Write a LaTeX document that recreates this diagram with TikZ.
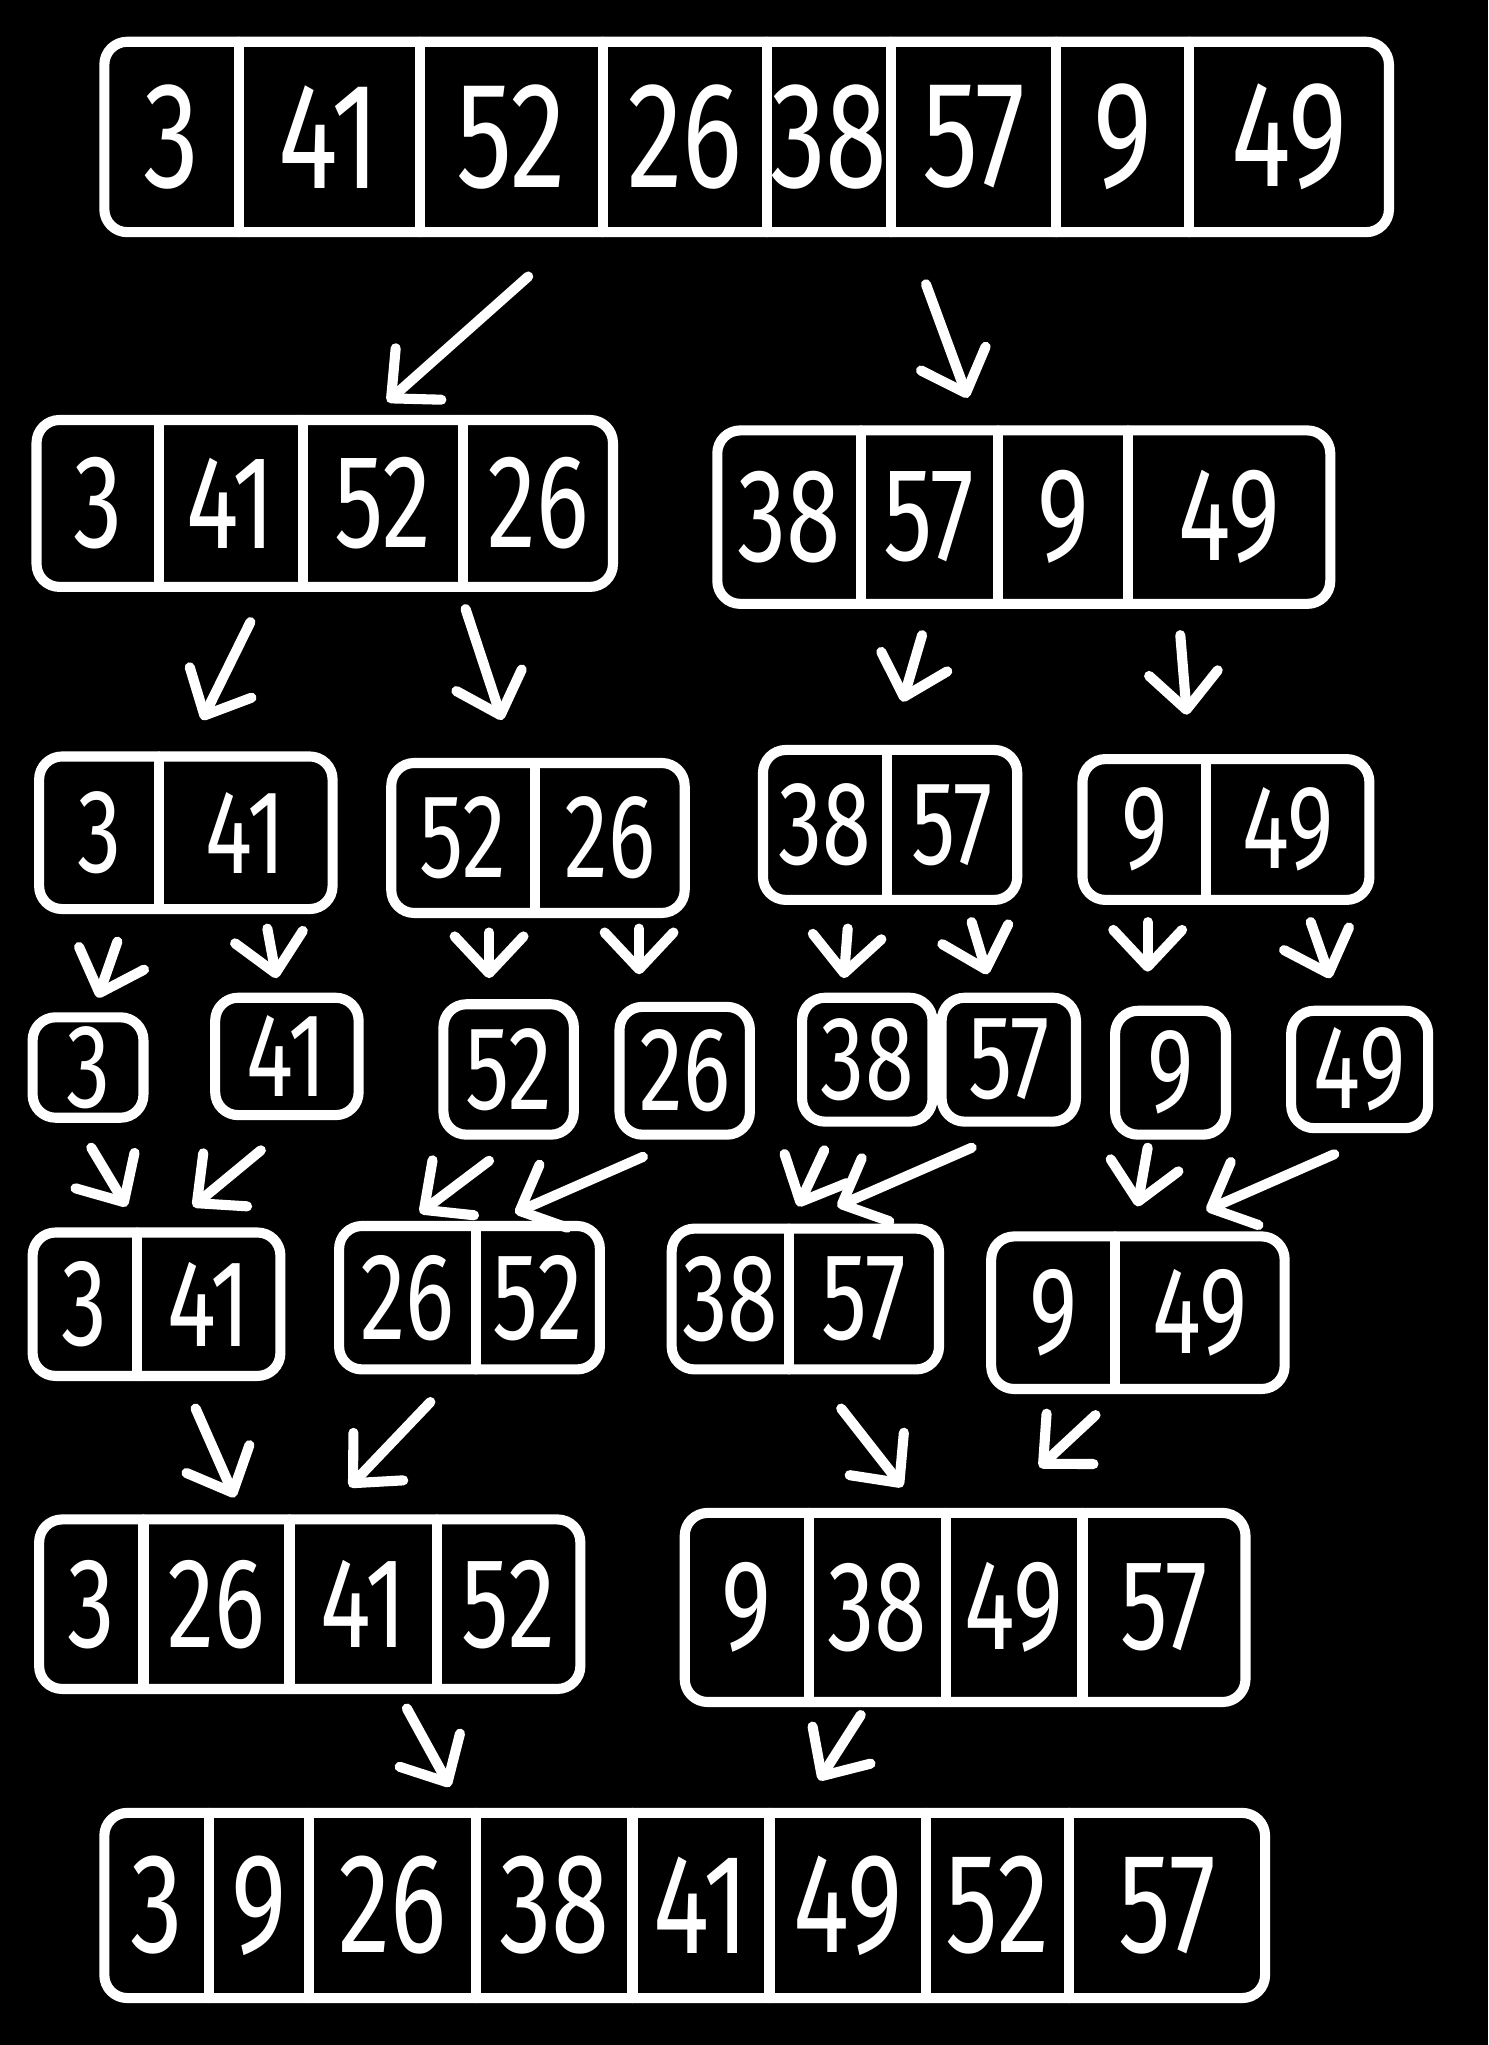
\documentclass[tikz,border=0pt]{standalone}
\usepackage{fontspec}
\setmainfont{Fira Sans}[FakeStretch=0.74]
\usetikzlibrary{arrows.meta}
\tikzset{
  box/.style={draw=white, line width=2.2pt, line join=round, line cap=round},
  num/.style={text=white, inner sep=0pt, font=\fontsize{#1}{#1}\selectfont},
  arrowline/.style={draw=white, line width=2.2pt, line cap=round,
    -{Straight Barb[round, length=8pt, width=15pt]}},
}
% name, left, right, top, bottom, text size, cells left/right/value
\newcommand{\drawarray}[7]{%
  \draw[box, rounded corners=5pt] (#2,#4) rectangle (#3,#5);
  \foreach \l/\r/\v [count=\k] in {#7} {
    \ifnum\k>1 \draw[box] (\l,#4) -- (\l,#5); \fi
    \node[num=#6] (#1\k) at ({(\l+\r)/2},{(#4+#5)/2}) {\v};
  }}

\begin{document}
\begin{tikzpicture}[x=0.01cm, y=-0.01cm]
        % Background
        \fill[black] (0,0) rectangle (1141,1568);

        % Unsorted array
        \drawarray{r1}{80}{1065}{32}{178}{33}{80/183/3, 183/322/41, 322/462/52, 462/588/26, 588/683/38, 683/810/57, 810/912/9, 912/1065/49}

        % First split
        \drawarray{r2a}{28}{470}{322}{450}{29}{28/122/3, 122/232/41, 232/355/52, 355/470/26}
        \drawarray{r2b}{550}{1020}{330}{463}{29}{550/660/38, 660/765/57, 765/865/9, 865/1020/49}

        % Second split
        \drawarray{r3a}{30}{255}{580}{697}{26}{30/122/3, 122/255/41}
        \drawarray{r3b}{300}{525}{585}{700}{26}{300/410/52, 410/525/26}
        \drawarray{r3c}{585}{780}{575}{690}{26}{585/680/38, 680/780/57}
        \drawarray{r3d}{830}{1050}{582}{690}{26}{830/925/9, 925/1050/49}

        % Single elements
        \drawarray{r4a}{25}{110}{780}{857}{26}{25/110/3}
        \drawarray{r4b}{165}{275}{765}{855}{26}{165/275/41}
        \drawarray{r4c}{340}{440}{770}{870}{26}{340/440/52}
        \drawarray{r4d}{475}{575}{772}{870}{26}{475/575/26}
        \drawarray{r4e}{615}{715}{765}{860}{26}{615/715/38}
        \drawarray{r4f}{722}{825}{765}{860}{26}{722/825/57}
        \drawarray{r4g}{855}{940}{775}{870}{26}{855/940/9}
        \drawarray{r4h}{990}{1095}{775}{865}{26}{990/1095/49}

        % Merged pairs
        \drawarray{r5a}{25}{215}{945}{1055}{27}{25/105/3, 105/215/41}
        \drawarray{r5b}{260}{460}{940}{1050}{27}{260/365/26, 365/460/52}
        \drawarray{r5c}{515}{720}{942}{1050}{27}{515/605/38, 605/720/57}
        \drawarray{r5d}{760}{985}{948}{1065}{27}{760/855/9, 855/985/49}

        % Merged halves
        \drawarray{r6a}{30}{445}{1165}{1295}{28}{30/110/3, 110/222/26, 222/335/41, 335/445/52}
        \drawarray{r6b}{525}{955}{1160}{1305}{28}{525/620/9, 620/725/38, 725/830/49, 830/955/57}

        % Sorted array
        \drawarray{r7}{80}{970}{1390}{1532}{31}{80/160/3, 160/237/9, 237/365/26, 365/485/38, 485/590/41, 590/710/49, 710/820/52, 820/970/57}

        % Arrows between the levels
        \foreach \n/\xa/\ya/\xb/\yb in {
            a1/405/212/297/308, a2/710/218/742/305,
            a3/192/477/155/552, a4/357/467/385/552, a5/707/487/692/538, a6/905/487/910/548,
            a7/90/722/75/765, a8/205/712/212/750, a9/375/715/375/750, a10/490/712/490/747,
            a11/650/712/647/750, a12/745/707/757/747, a13/880/707/880/745, a14/1005/707/1020/750,
            b1/70/880/97/925, b2/200/882/148/925, b3/375/890/322/930, b4/493/887/395/930,
            b5/632/882/612/925, b6/745/880/642/925, b7/880/880/872/925, b8/1023/885/925/928,
            c1/150/1080/180/1148, c2/330/1075/268/1140, c3/645/1080/692/1140, c4/840/1085/797/1125,
            d1/312/1310/345/1370, d2/660/1315/628/1365} {
          \coordinate (\n-s) at (\xa,\ya);
          \coordinate (\n-e) at (\xb,\yb);
          \draw[arrowline] (\n-s) -- (\n-e);
        }
\end{tikzpicture}
\end{document}
